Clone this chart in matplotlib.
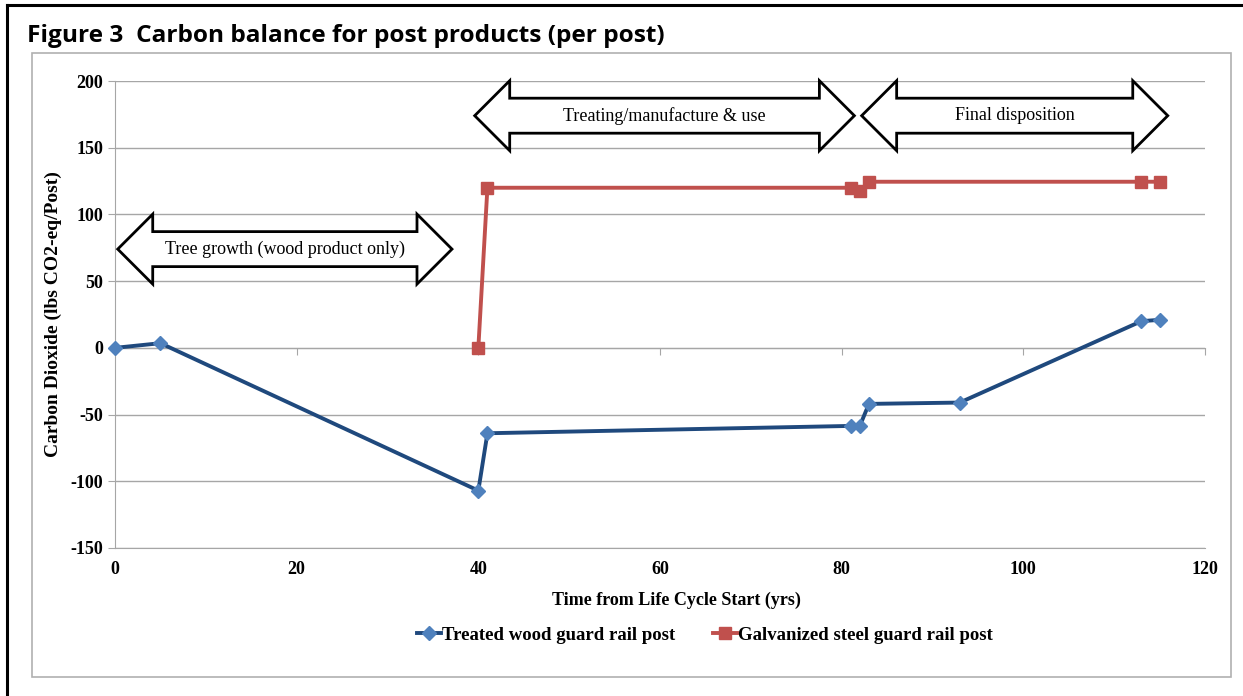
import matplotlib
matplotlib.use("Agg")
import matplotlib.pyplot as plt
from matplotlib.patches import Polygon, Rectangle
from matplotlib.lines import Line2D

plt.rcParams["axes.unicode_minus"] = False

# data
wood_years = [0, 5, 40, 41, 81, 82, 83, 93, 113, 115]
wood_co2 = [0, 3.5, -107, -64, -58.5, -58.5, -42, -41, 20, 21]
steel_years = [40, 41, 81, 82, 83, 113, 115]
steel_co2 = [0, 120, 120, 117.5, 124.5, 124.5, 124.5]

# phase arrows: (x_start, x_end, y_center, label)
phases = [
    (0.3, 37.1, 74, "Tree growth (wood product only)"),
    (39.6, 81.4, 174, "Treating/manufacture & use"),
    (82.2, 115.9, 174, "Final disposition"),
]

W, H = 1243, 696
fig = plt.figure(figsize=(W / 100, H / 100), dpi=100)
serif = "Liberation Serif"


def fx(px):
    return px / W


def fy(py):
    return 1 - py / H


# outer black frame and inner grey chart box
fig.add_artist(Line2D([fx(7), fx(7)], [fy(5), 0], color="black", lw=2.2))
fig.add_artist(Line2D([fx(7), 1], [fy(5), fy(5)], color="black", lw=2.2))
fig.add_artist(Rectangle((fx(32), fy(677)), fx(1231) - fx(32), fy(53) - fy(677),
                         fill=False, ec="#b0b0b0", lw=1.2, transform=fig.transFigure))

fig.text(fx(27), fy(36), "Figure 3  Carbon balance for post products (per post)",
         fontsize=17.6, weight="bold", family="Open Sans", va="center", ha="left")

ax = fig.add_axes([fx(115), fy(548), fx(1205) - fx(115), fy(81) - fy(548)])
ax.set_xlim(0, 120)
ax.set_ylim(-150, 200)
ax.set_yticks(range(-150, 201, 50))
ax.set_xticks(range(0, 121, 20))
ax.grid(axis="y", color="#a6a6a6", lw=1)
ax.set_axisbelow(True)

for s in ["top", "right"]:
    ax.spines[s].set_visible(False)
ax.spines["left"].set_color("#a6a6a6")
ax.spines["bottom"].set_position(("data", 0))
ax.spines["bottom"].set_color("#a6a6a6")
ax.tick_params(axis="x", direction="out", length=5, color="#a6a6a6", labelbottom=False)
ax.tick_params(axis="y", direction="out", length=5, color="#a6a6a6", labelsize=13)
for lab in ax.get_yticklabels():
    lab.set_family(serif)
    lab.set_weight("bold")

sec = ax.secondary_xaxis(0)
sec.set_xticks(range(0, 121, 20))
sec.tick_params(length=0, labelsize=13, pad=9)
sec.spines["bottom"].set_color("#a6a6a6")
for lab in sec.get_xticklabels():
    lab.set_family(serif)
    lab.set_weight("bold")

ax.set_ylabel("Carbon Dioxide (lbs CO2-eq/Post)", family=serif, weight="bold", fontsize=14,
              labelpad=6)
sec.set_xlabel("Time from Life Cycle Start (yrs)", family=serif, weight="bold", fontsize=13,
               labelpad=10)
sec.xaxis.label.set_x(0.515)

ax.plot(wood_years, wood_co2, color="#1f497d", lw=2.8, marker="D", ms=7,
        mfc="#4f81bd", mec="#4f81bd", label="Treated wood guard rail post", clip_on=False, zorder=4)
ax.plot(steel_years, steel_co2, color="#c0504d", lw=2.8, marker="s", ms=8,
        mfc="#c0504d", mec="#c0504d", label="Galvanized steel guard rail post", clip_on=False, zorder=4)

# block double arrows (sizes in px converted to data units)
xs = 120 / (1205 - 115)
ys = 350 / (548 - 81)
for x0, x1, yc, text in phases:
    head = 35 * xs
    bh = 17.5 * ys
    hh = 35 * ys
    pts = [(x0, yc), (x0 + head, yc + hh), (x0 + head, yc + bh), (x1 - head, yc + bh),
           (x1 - head, yc + hh), (x1, yc), (x1 - head, yc - hh), (x1 - head, yc - bh),
           (x0 + head, yc - bh), (x0 + head, yc - hh)]
    ax.add_patch(Polygon(pts, closed=True, fc="white", ec="black", lw=2, zorder=5,
                         clip_on=False, joinstyle="miter"))
    ax.text((x0 + x1) / 2, yc, text, ha="center", va="center", family=serif,
            fontsize=13, zorder=6)

leg = fig.legend(loc="center", bbox_to_anchor=(fx(705), fy(635)), ncol=2, frameon=False,
                 prop={"family": serif, "weight": "bold", "size": 13.5},
                 handlelength=1.3, columnspacing=2.0, handletextpad=0.05)

fig.savefig("out.png", dpi=100)
